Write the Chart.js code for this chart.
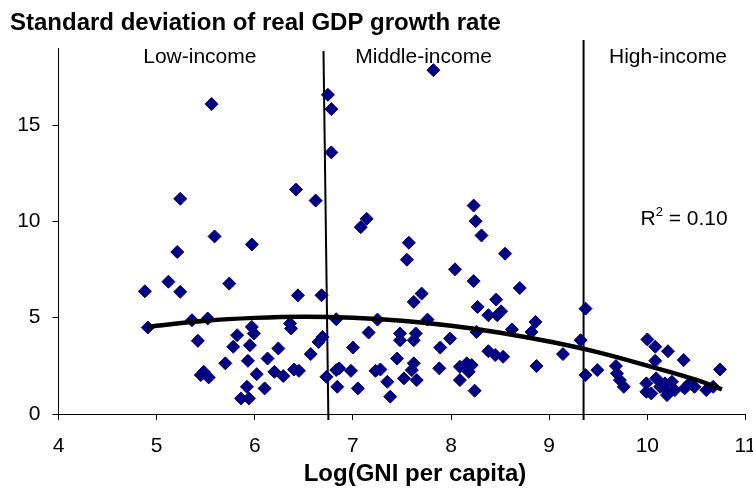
<!DOCTYPE html>
<html><head><meta charset="utf-8">
<script src="https://cdn.jsdelivr.net/npm/chart.js@4.4.0/dist/chart.umd.min.js"></script>
<style>html,body{margin:0;padding:0;background:#fff;}#wrap{width:753px;height:489px;position:relative;}</style>
</head><body><div id="wrap"><canvas id="c" width="753" height="489"></canvas></div>
<script>
// ---- data ----
const logGni = [
  4.88,4.91,5.12,5.21,5.24,5.24,5.36,5.42,5.45,5.48,5.53,5.52,5.56,5.59,5.70,5.74,5.78,5.82,5.86,5.92,
  5.93,5.94,5.95,5.97,5.97,5.99,6.02,6.10,6.13,6.20,6.24,6.29,6.36,6.37,6.40,6.45,6.42,6.44,6.57,6.62,
  6.65,6.69,6.68,6.73,6.745,6.78,6.78,
  6.83,6.83,6.84,6.86,6.98,7.00,7.05,7.08,7.14,7.16,7.23,7.28,7.25,7.35,7.38,7.45,7.48,7.48,7.52,7.55,
  7.57,7.60,7.62,7.62,7.64,7.62,7.65,7.70,7.76,7.82,7.88,7.89,7.99,8.04,8.09,8.09,8.16,8.18,8.21,8.23,
  8.23,8.24,8.25,8.26,8.27,8.31,8.38,8.38,8.45,8.46,8.47,8.51,8.53,8.55,8.62,8.70,8.82,8.86,8.87,9.14,
  9.32,9.37,9.37,9.49,
  9.68,9.69,9.72,9.76,10.00,10.08,10.08,10.21,10.37,10.74,9.99,10.04,10.09,10.13,10.18,10.21,10.25,10.20,
  10.38,10.43,10.48,10.60,10.67,9.99,10.28
];
const sdGrowth = [
  6.37,4.49,6.87,8.41,11.17,6.34,4.87,3.80,2.02,2.19,1.90,4.96,16.09,9.22,2.63,6.77,3.49,4.09,0.81,1.41,
  2.76,0.81,3.57,4.52,8.80,4.18,2.07,1.33,2.88,2.19,3.40,1.97,4.70,4.44,2.31,2.24,11.65,6.16,3.11,11.08,
  3.74,4.00,6.16,1.93,16.57,15.83,13.58,
  4.92,2.28,1.41,2.37,2.24,3.45,1.33,9.70,10.13,4.23,2.24,2.31,4.90,1.67,0.90,2.88,4.18,3.83,1.85,8.01,
  8.89,2.28,2.63,5.82,4.18,3.83,1.76,6.25,4.90,17.85,2.37,3.45,3.92,7.51,2.45,1.76,2.63,2.19,2.54,10.82,
  6.90,1.21,10.01,4.26,5.56,9.27,5.13,3.26,3.06,5.94,5.13,5.33,2.97,8.32,4.39,6.54,4.26,4.78,2.49,3.11,
  3.83,5.47,2.02,2.28,
  2.49,2.11,1.76,1.41,3.87,3.49,2.76,3.26,2.80,2.31,1.59,1.07,1.85,1.41,1.59,1.15,1.67,0.98,
  1.33,1.59,1.41,1.24,1.41,1.15,1.24
];
// polynomial trendline
const trendX = [4.90,5.50,6.00,6.50,7.00,7.50,8.00,8.50,9.00,9.50,10.00,10.50,10.76];
const trendY = [4.52,4.84,4.99,5.05,5.00,4.84,4.58,4.22,3.76,3.20,2.51,1.77,1.28];
const xTickValues = [4,5,6,7,8,9,10,11];
const yTickValues = [0,5,10,15];
const groupLabels = ['Low-income','Middle-income','High-income'];
const groupLabelX = [5.44,7.72,10.21];
const groupLabelY = 18.23;
const dividerTopX = [6.70,9.35];
const dividerBottomX = [6.75,9.35];
const dividerTopY = [18.85,19.42];
const rSquaredText = '0.10';
const rSquaredPos = [9.93,9.79];
const chartTitle = 'Standard deviation of real GDP growth rate';
const xAxisTitle = 'Log(GNI per capita)';

const FONT = '"Liberation Sans", Arial, sans-serif';
const NAVY = '#000080';

const points = logGni.map((x,i)=>({x:x,y:sdGrowth[i]}));
const trend = trendX.map((x,i)=>({x:x,y:trendY[i]}));

const annot = {
  id:'annot',
  beforeDatasetsDraw(chart){
    const ctx=chart.ctx, xs=chart.scales.x, ys=chart.scales.y;
    ctx.save();
    ctx.strokeStyle='#000'; ctx.lineWidth=2;
    for(let i=0;i<dividerTopX.length;i++){
      ctx.beginPath();
      ctx.moveTo(xs.getPixelForValue(dividerTopX[i]), ys.getPixelForValue(dividerTopY[i]));
      ctx.lineTo(xs.getPixelForValue(dividerBottomX[i]), chart.chartArea.bottom+6);
      ctx.stroke();
    }
    ctx.restore();
  },
  afterDraw(chart){
    const ctx=chart.ctx, xs=chart.scales.x, ys=chart.scales.y;
    ctx.save();
    ctx.fillStyle='#000';
    ctx.textBaseline='alphabetic';
    ctx.font='bold 24px '+FONT;
    ctx.textAlign='left';
    ctx.fillText(chartTitle,10,30);
    ctx.textAlign='center';
    ctx.fillText(xAxisTitle,415,481);
    ctx.font='21px '+FONT;
    for(let i=0;i<groupLabels.length;i++){
      ctx.fillText(groupLabels[i], xs.getPixelForValue(groupLabelX[i]), ys.getPixelForValue(groupLabelY));
    }
    ctx.textAlign='left';
    let rx=xs.getPixelForValue(rSquaredPos[0]), ry=ys.getPixelForValue(rSquaredPos[1]);
    ctx.fillText('R',rx,ry);
    rx+=ctx.measureText('R').width;
    ctx.font='13px '+FONT;
    ctx.fillText('2',rx,ry-9);
    rx+=ctx.measureText('2').width;
    ctx.font='21px '+FONT;
    ctx.fillText(' = '+rSquaredText,rx,ry);
    ctx.restore();
  }
};

new Chart(document.getElementById('c'),{
  type:'scatter',
  data:{datasets:[
    {label:'Trend',data:trend,showLine:true,borderColor:'#000',borderWidth:4.5,pointRadius:0,tension:0.4,fill:false,order:0},
    {label:'Countries',data:points,pointStyle:'rectRot',pointRadius:6.5,backgroundColor:NAVY,borderColor:NAVY,borderWidth:1,order:1}
  ]},
  options:{
    responsive:false,animation:false,devicePixelRatio:1,
    layout:{padding:{left:0,right:7,top:48,bottom:0}},
    plugins:{legend:{display:false},title:{display:false},tooltip:{enabled:false}},
    scales:{
      x:{type:'linear',min:4,max:11,
        afterBuildTicks(s){s.ticks=xTickValues.map(v=>({value:v}));},
        afterFit(s){s.height=75;s.paddingLeft=0;s.paddingRight=0;},
        ticks:{font:{family:FONT,size:21},color:'#000',padding:14,maxRotation:0,autoSkip:false},
        grid:{drawOnChartArea:false,drawTicks:true,tickLength:6,color:'#000',lineWidth:1},
        border:{display:true,color:'#000',width:1}},
      y:{type:'linear',min:0,max:19,
        afterBuildTicks(s){s.ticks=yTickValues.map(v=>({value:v}));},
        afterFit(s){s.width=58.5;s.paddingTop=0;s.paddingBottom=0;},
        ticks:{font:{family:FONT,size:21},color:'#000',padding:12},
        grid:{drawOnChartArea:false,drawTicks:true,tickLength:6,color:'#000',lineWidth:1},
        border:{display:true,color:'#000',width:1}}
    }
  },
  plugins:[annot]
});
</script></body></html>
